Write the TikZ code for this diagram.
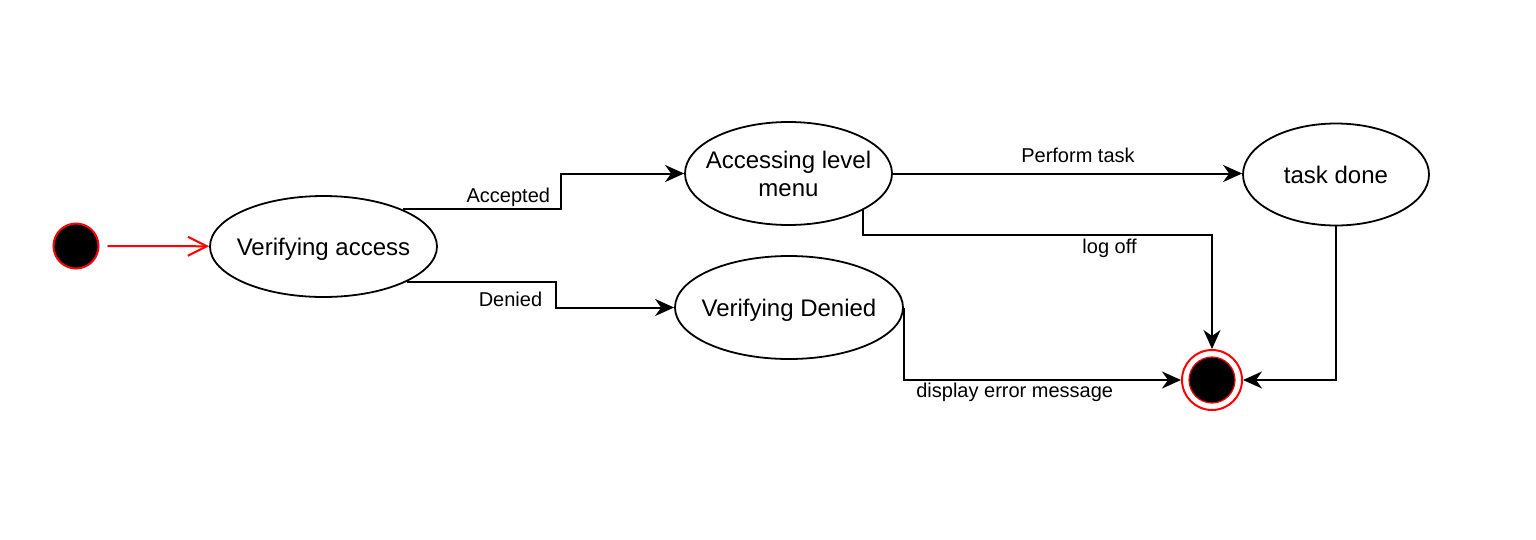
\documentclass[tikz,border=0pt]{standalone}
\usepackage{fontspec}
\setmainfont{Liberation Sans}
\usetikzlibrary{shapes.geometric,arrows.meta,calc}
\begin{document}
\begin{tikzpicture}[x=1pt,y=-1pt,
  state/.style={ellipse, draw=black, line width=1.8pt, inner sep=0pt},
  stxt/.style={font=\fontsize{24}{28}\selectfont, align=center, inner sep=0pt},
  lbl/.style={font=\fontsize{20}{24}\selectfont, inner sep=0pt, anchor=center},
  arr/.style={draw=black, line width=2pt, -{Stealth[length=19pt,width=17pt,inset=6pt]}},
  initarr/.style={draw=red, line width=2pt, -{Straight Barb[length=19pt,width=19pt]}},
  startnode/.style={circle, fill=black, draw=red, line width=2pt, minimum size=45pt, inner sep=0pt},
  finalouter/.style={circle, draw=red, line width=2pt, fill=white, minimum size=60pt, inner sep=0pt},
  finalinner/.style={circle, fill=black, draw=red, line width=1.2pt, minimum size=46pt, inner sep=0pt}]
\useasboundingbox (0,0) rectangle (1536,539);
\node[startnode] (s) at (76,246) {};
\node[state, minimum width=227pt, minimum height=101pt,
  label={[stxt, yshift=-3pt]center:Verifying access}] (va) at (323.5,246.5) {};
\node[state, minimum width=207pt, minimum height=103pt,
  label={[stxt]center:{Accessing level\\menu}}] (alm) at (788.5,173.5) {};
\node[state, minimum width=186pt, minimum height=102pt,
  label={[stxt]center:task done}] (td) at (1336,174.5) {};
\node[state, minimum width=228pt, minimum height=103pt,
  label={[stxt, yshift=-3pt]center:Verifying Denied}] (vd) at (789,307.5) {};
\node[finalouter] (f) at (1212,380) {};
\node[finalinner] (fi) at (f) {};
\coordinate (ax) at (561,0);
\coordinate (dx) at (556,0);
\coordinate (lx) at (862,235);
% initial
\draw[initarr, shorten <=8pt] (s) -- (va);
% accepted
\draw[arr] (va.25) -- node[lbl, pos=0.667, yshift=12pt] {Accepted} (va.25 -| ax) |- (alm.west);
% denied
\draw[arr] (va.-23) -- node[lbl, pos=0.695, yshift=-18pt] {Denied} (va.-23 -| dx) |- (vd.west);
% perform task
\draw[arr] (alm.east) -- node[lbl, pos=0.53, yshift=18pt] {Perform task} (alm.east -| td.west);
% log off
\draw[arr] (alm.-26) -- (alm.-26 |- lx) -- node[lbl, pos=0.706, yshift=-13pt] {log off} (f.north |- lx) -- (f.north);
% display error
\draw[arr] (vd.east) |- node[lbl, pos=0.7, yshift=-12.5pt] {display error message} (f.west);
% task done to final
\draw[arr] (td.south) |- (f.east);
\end{tikzpicture}
\end{document}
